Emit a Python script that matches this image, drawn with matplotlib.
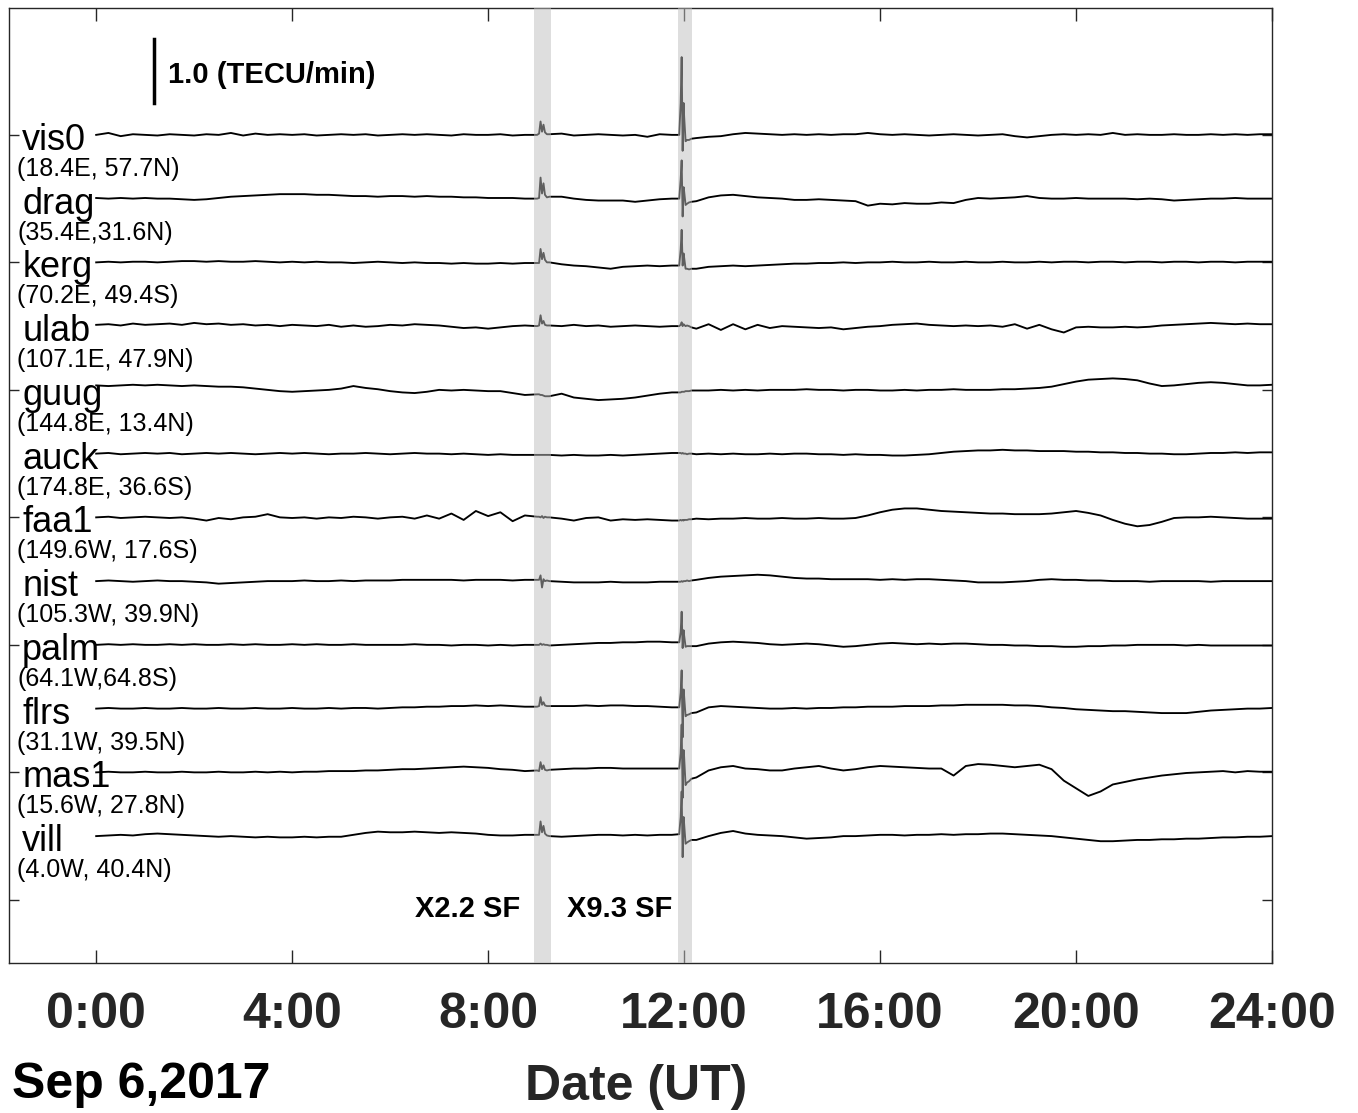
import numpy as np
import matplotlib
matplotlib.use("Agg")
import matplotlib.pyplot as plt

plt.rcParams['font.family'] = ['Liberation Sans', 'DejaVu Sans']

# station names, coordinates and vertical offsets (TECU/min)
stations = ['vis0', 'drag', 'kerg', 'ulab', 'guug', 'auck',
            'faa1', 'nist', 'palm', 'flrs', 'mas1', 'vill']
coords = ['(18.4E, 57.7N)', '(35.4E,31.6N)', '(70.2E, 49.4S)', '(107.1E, 47.9N)',
          '(144.8E, 13.4N)', '(174.8E, 36.6S)', '(149.6W, 17.6S)', '(105.3W, 39.9N)',
          '(64.1W,64.8S)', '(31.1W, 39.5N)', '(15.6W, 27.8N)', '(4.0W, 40.4N)']
offsets = [12, 11, 10, 9, 8, 7, 6, 5, 4, 3, 2, 1]

# sampling: every 15 min, plus extra samples around the two flares
hours_grid = np.arange(0, 24.01, 0.25)
flare_hours = [9.04, 9.07, 9.1, 9.13, 9.16, 9.2,
               11.9, 11.93, 11.95, 11.97, 11.99, 12.03, 12.06, 12.1, 12.15]

# flare windows (UT hours) and labels
flare_bands = [(8.94, 9.29), (11.88, 12.16)]
flare_names = ['X2.2 SF', 'X9.3 SF']
flare_label_x = [8.65, 11.77]

# dTEC/dt, relative to each baseline (15-min grid)
base_vis0 = [0.00, 0.03, -0.02, 0.01, 0.00, -0.01, 0.01, 0.00,
             -0.01, 0.01, 0.00, 0.03, -0.01, 0.02, 0.00, 0.01,
             0.00, 0.01, -0.01, 0.00, 0.01, 0.00, 0.01, -0.01,
             0.00, 0.01, 0.00, 0.01, 0.00, -0.01, 0.01, 0.00,
             0.00, 0.01, -0.01, 0.00, 0.00, 0.01, 0.02, -0.01,
             0.00, 0.01, 0.00, -0.01, 0.00, -0.03, 0.01, 0.00,
             0.30, -0.05, -0.03, -0.02, 0.01, 0.03, 0.02, 0.01,
             0.00, 0.01, 0.00, 0.01, 0.00, 0.01, 0.01, 0.03,
             0.01, 0.00, 0.01, 0.00, -0.01, 0.00, 0.01, 0.00,
             -0.01, 0.00, 0.01, -0.02, -0.04, -0.02, 0.00, 0.01,
             0.00, 0.01, 0.00, 0.03, 0.00, 0.01, 0.00, 0.00,
             0.01, 0.00, 0.00, 0.01, 0.00, 0.01, 0.00, 0.01,
             0.01]
base_drag = [0.01, 0.00, 0.01, 0.00, 0.01, 0.00, 0.00, -0.01,
             -0.02, -0.01, 0.01, 0.03, 0.04, 0.05, 0.06, 0.07,
             0.07, 0.07, 0.06, 0.06, 0.05, 0.04, 0.04, 0.03,
             0.04, 0.04, 0.03, 0.04, 0.03, 0.03, 0.02, 0.02,
             0.01, 0.01, 0.01, 0.00, 0.00, 0.03, 0.03, 0.00,
             -0.02, -0.03, -0.03, -0.03, -0.05, -0.03, -0.01, 0.00,
             0.12, -0.04, 0.02, 0.05, 0.06, 0.04, 0.02, 0.01,
             0.00, -0.02, -0.02, -0.01, -0.02, -0.03, -0.04, -0.11,
             -0.08, -0.09, -0.07, -0.08, -0.08, -0.06, -0.07, -0.02,
             0.01, 0.00, 0.01, 0.02, 0.04, 0.01, 0.00, 0.00,
             0.01, 0.00, 0.00, 0.00, 0.00, -0.01, 0.00, -0.01,
             -0.03, -0.02, -0.01, 0.00, 0.00, 0.01, 0.00, 0.00,
             0.00]
base_kerg = [0.00, 0.01, 0.00, 0.01, 0.01, 0.00, 0.01, 0.02,
             0.02, 0.01, 0.02, 0.01, 0.01, 0.02, 0.01, 0.00,
             0.01, 0.00, 0.01, 0.00, 0.00, -0.01, 0.00, 0.01,
             0.00, -0.01, 0.00, -0.01, -0.01, -0.02, -0.01, -0.02,
             -0.02, -0.01, -0.02, -0.01, -0.01, 0.00, -0.03, -0.05,
             -0.06, -0.08, -0.10, -0.07, -0.06, -0.05, -0.06, -0.05,
             0.08, -0.10, -0.07, -0.06, -0.05, -0.06, -0.05, -0.04,
             -0.03, -0.02, -0.02, -0.01, -0.01, 0.00, -0.01, 0.00,
             0.00, 0.01, 0.00, 0.00, 0.01, 0.00, 0.00, 0.01,
             0.00, 0.00, 0.01, 0.00, 0.00, 0.01, 0.00, 0.01,
             0.01, 0.00, 0.01, 0.01, 0.00, 0.01, 0.01, 0.00,
             0.01, 0.01, 0.00, 0.01, 0.01, 0.00, 0.01, 0.01,
             0.01]
base_ulab = [0.02, 0.03, 0.01, 0.04, 0.02, 0.03, 0.04, 0.02,
             0.05, 0.03, 0.04, 0.02, 0.03, 0.01, 0.02, 0.00,
             0.02, 0.01, 0.00, 0.02, -0.01, 0.01, -0.01, 0.00,
             0.02, 0.01, 0.03, 0.02, 0.01, -0.01, -0.03, -0.02,
             -0.04, -0.02, 0.00, 0.01, 0.00, 0.01, 0.00, 0.02,
             0.00, 0.01, -0.01, 0.00, 0.01, 0.00, -0.01, 0.00,
             0.02, -0.04, 0.03, -0.06, 0.03, -0.05, 0.02, -0.03,
             0.00, -0.01, -0.02, -0.03, -0.02, -0.05, -0.03, -0.01,
             0.00, 0.02, 0.03, 0.04, 0.02, 0.01, 0.00, 0.01,
             0.00, 0.01, -0.01, 0.03, -0.04, 0.02, -0.05, -0.10,
             -0.02, -0.01, -0.02, -0.02, -0.01, -0.02, -0.01, 0.01,
             0.02, 0.03, 0.04, 0.05, 0.04, 0.03, 0.04, 0.03,
             0.03]
base_guug = [0.07, 0.06, 0.07, 0.08, 0.07, 0.08, 0.07, 0.06,
             0.07, 0.06, 0.05, 0.05, 0.04, 0.02, 0.00, -0.02,
             -0.03, -0.02, -0.01, 0.00, 0.02, 0.06, 0.03, 0.01,
             -0.02, -0.04, -0.05, -0.03, 0.00, -0.01, 0.00, -0.01,
             -0.02, -0.02, -0.05, -0.08, -0.07, -0.10, -0.06, -0.12,
             -0.14, -0.16, -0.15, -0.14, -0.12, -0.09, -0.06, -0.04,
             -0.03, -0.01, -0.01, 0.00, -0.01, 0.00, -0.01, 0.00,
             0.00, 0.00, 0.01, 0.00, 0.00, -0.01, 0.00, 0.00,
             -0.01, -0.01, 0.00, -0.01, 0.00, 0.00, 0.01, 0.00,
             0.00, 0.00, 0.01, 0.01, 0.02, 0.03, 0.05, 0.09,
             0.13, 0.16, 0.17, 0.18, 0.17, 0.15, 0.10, 0.06,
             0.07, 0.09, 0.11, 0.12, 0.11, 0.09, 0.07, 0.07,
             0.08]
base_auck = [0.00, 0.01, -0.01, 0.00, 0.01, 0.00, 0.01, -0.01,
             0.00, 0.01, 0.00, 0.01, 0.00, -0.01, 0.00, 0.01,
             0.00, 0.01, 0.00, -0.01, 0.00, 0.00, 0.01, 0.00,
             -0.01, 0.00, 0.01, 0.00, 0.00, -0.01, 0.00, -0.01,
             -0.02, -0.01, -0.02, -0.02, -0.02, -0.02, -0.03, -0.02,
             -0.03, -0.03, -0.02, -0.03, -0.02, -0.01, 0.00, 0.01,
             0.00, -0.01, 0.00, -0.01, 0.00, -0.01, -0.01, 0.00,
             -0.01, 0.00, 0.00, -0.01, -0.01, -0.02, -0.01, -0.02,
             -0.02, -0.03, -0.03, -0.02, -0.01, 0.01, 0.03, 0.04,
             0.05, 0.05, 0.06, 0.05, 0.05, 0.04, 0.04, 0.04,
             0.03, 0.03, 0.02, 0.02, 0.01, 0.01, 0.00, 0.00,
             -0.01, -0.01, 0.00, 0.01, 0.01, 0.02, 0.01, 0.02,
             0.02]
base_faa1 = [0.00, 0.01, -0.01, 0.00, 0.01, 0.00, -0.01, 0.00,
             -0.02, -0.05, -0.01, -0.03, 0.00, 0.01, 0.05, 0.00,
             -0.01, 0.00, -0.02, 0.00, -0.01, 0.01, 0.00, -0.02,
             0.00, 0.01, -0.02, 0.03, -0.02, 0.06, -0.04, 0.10,
             0.02, 0.08, -0.06, 0.03, 0.01, 0.00, -0.02, -0.05,
             -0.01, 0.00, -0.05, -0.03, -0.04, -0.03, -0.04, -0.05,
             -0.04, -0.02, -0.03, -0.02, -0.02, -0.01, -0.02, -0.02,
             -0.01, -0.02, -0.02, -0.01, -0.02, -0.02, -0.01, 0.03,
             0.08, 0.12, 0.14, 0.14, 0.12, 0.10, 0.09, 0.08,
             0.07, 0.06, 0.06, 0.05, 0.05, 0.05, 0.06, 0.08,
             0.10, 0.07, 0.03, -0.04, -0.10, -0.14, -0.12, -0.07,
             -0.01, 0.00, 0.00, 0.01, 0.00, -0.01, -0.02, -0.02,
             -0.02]
base_nist = [0.00, 0.01, 0.00, -0.01, 0.00, 0.01, 0.00, 0.00,
             -0.01, -0.02, -0.04, -0.03, -0.02, -0.01, 0.00, 0.00,
             0.00, 0.01, 0.00, 0.00, 0.01, 0.00, 0.01, 0.01,
             0.01, 0.02, 0.02, 0.02, 0.02, 0.02, 0.01, 0.02,
             0.02, 0.02, 0.01, 0.02, 0.02, 0.00, -0.01, -0.02,
             -0.02, -0.02, -0.01, -0.02, -0.02, -0.02, -0.01, -0.01,
             0.00, 0.02, 0.05, 0.07, 0.08, 0.09, 0.10, 0.09,
             0.07, 0.05, 0.04, 0.04, 0.03, 0.03, 0.03, 0.03,
             0.02, 0.03, 0.02, 0.03, 0.03, 0.02, 0.01, 0.00,
             -0.02, -0.02, -0.02, -0.01, 0.00, 0.02, 0.03, 0.02,
             0.02, 0.01, 0.01, 0.00, 0.00, 0.00, -0.01, 0.00,
             0.00, 0.00, 0.00, -0.01, 0.00, 0.00, 0.00, 0.00,
             0.00]
base_palm = [0.00, 0.01, 0.00, 0.01, 0.00, 0.00, 0.01, 0.00,
             0.01, 0.00, 0.00, 0.01, 0.00, 0.01, 0.00, 0.00,
             0.01, 0.00, 0.01, 0.00, 0.00, 0.01, 0.00, 0.00,
             0.00, 0.00, 0.01, 0.00, 0.00, -0.01, 0.00, 0.00,
             -0.01, 0.00, -0.01, 0.00, 0.00, -0.01, 0.00, 0.01,
             0.02, 0.03, 0.03, 0.04, 0.04, 0.05, 0.05, 0.04,
             0.15, -0.02, 0.02, 0.04, 0.05, 0.04, 0.03, 0.01,
             0.00, 0.01, 0.02, 0.01, -0.01, -0.03, -0.02, 0.00,
             0.02, 0.03, 0.02, 0.01, 0.02, 0.01, 0.02, 0.02,
             0.01, 0.00, 0.00, -0.01, -0.01, -0.02, -0.02, -0.03,
             -0.03, -0.02, -0.02, -0.01, -0.01, 0.00, 0.00, 0.00,
             0.00, -0.01, 0.00, -0.01, -0.01, -0.01, -0.01, -0.01,
             -0.01]
base_flrs = [0.00, 0.01, 0.00, 0.00, 0.01, 0.00, 0.00, 0.01,
             0.00, 0.00, 0.01, 0.00, 0.00, 0.01, 0.00, 0.00,
             0.01, 0.00, 0.00, 0.01, 0.00, 0.01, 0.01, 0.00,
             0.01, 0.02, 0.02, 0.03, 0.03, 0.04, 0.04, 0.05,
             0.04, 0.05, 0.04, 0.03, 0.03, 0.04, 0.04, 0.04,
             0.05, 0.04, 0.05, 0.05, 0.04, 0.04, 0.03, 0.02,
             0.20, -0.06, 0.02, 0.04, 0.03, 0.02, 0.01, 0.00,
             0.00, 0.01, 0.00, 0.01, 0.01, 0.02, 0.02, 0.03,
             0.03, 0.03, 0.04, 0.04, 0.04, 0.05, 0.05, 0.06,
             0.06, 0.06, 0.06, 0.05, 0.05, 0.04, 0.02, 0.01,
             -0.01, -0.02, -0.03, -0.04, -0.04, -0.05, -0.06, -0.07,
             -0.07, -0.07, -0.05, -0.03, -0.02, -0.01, 0.00, 0.00,
             0.01]
base_mas1 = [0.00, 0.01, 0.00, 0.00, 0.01, 0.00, 0.00, 0.01,
             0.00, 0.00, 0.01, 0.00, 0.00, 0.01, 0.00, 0.01,
             0.00, 0.01, 0.01, 0.02, 0.02, 0.02, 0.03, 0.03,
             0.04, 0.05, 0.05, 0.06, 0.07, 0.08, 0.09, 0.08,
             0.07, 0.05, 0.04, 0.02, 0.03, 0.04, 0.05, 0.06,
             0.06, 0.07, 0.07, 0.06, 0.06, 0.06, 0.06, 0.06,
             0.25, -0.08, 0.03, 0.08, 0.10, 0.06, 0.05, 0.03,
             0.03, 0.06, 0.08, 0.10, 0.06, 0.03, 0.05, 0.08,
             0.10, 0.09, 0.08, 0.07, 0.06, 0.06, -0.05, 0.10,
             0.13, 0.12, 0.10, 0.08, 0.10, 0.12, 0.05, -0.13,
             -0.25, -0.37, -0.30, -0.19, -0.15, -0.11, -0.08, -0.05,
             -0.03, -0.01, 0.00, 0.01, 0.02, 0.00, 0.02, 0.01,
             0.01]
base_vill = [0.00, 0.01, 0.02, 0.01, 0.03, 0.04, 0.03, 0.02,
             0.01, 0.00, -0.01, 0.00, -0.01, -0.02, -0.01, -0.02,
             -0.02, -0.01, -0.02, -0.01, -0.01, 0.02, 0.05, 0.07,
             0.06, 0.06, 0.07, 0.06, 0.05, 0.06, 0.05, 0.04,
             0.02, 0.01, 0.01, 0.02, 0.02, 0.00, -0.01, 0.00,
             0.01, 0.02, 0.02, 0.01, 0.02, 0.01, 0.02, 0.02,
             0.20, -0.06, 0.00, 0.05, 0.08, 0.04, 0.02, 0.01,
             0.00, -0.02, -0.04, -0.03, -0.02, 0.00, 0.00, 0.01,
             0.02, 0.02, 0.01, 0.02, 0.02, 0.03, 0.02, 0.03,
             0.03, 0.04, 0.04, 0.03, 0.02, 0.01, 0.00, -0.02,
             -0.04, -0.06, -0.08, -0.08, -0.07, -0.06, -0.06, -0.05,
             -0.05, -0.04, -0.04, -0.03, -0.02, -0.02, -0.01, -0.01,
             0.00]

# values at flare_hours (X2.2 twin peaks, then X9.3 impulsive spike)
flare_vis0 = [0.02, 0.21, 0.05, 0.16, 0.04, 0.01,
              0.00, 0.50, 1.22, -0.25, 0.50, -0.10, -0.08, -0.08, -0.06]
flare_drag = [0.01, 0.33, 0.08, 0.24, 0.06, 0.02,
              0.00, 0.30, 0.60, -0.28, 0.18, -0.10, -0.08, -0.06, -0.05]
flare_kerg = [-0.01, 0.21, 0.05, 0.15, 0.04, 0.00,
              -0.05, 0.20, 0.51, -0.05, 0.14, -0.10, -0.10, -0.11, -0.10]
flare_ulab = [0.01, 0.17, 0.04, 0.08, 0.02, 0.01,
              0.00, 0.02, 0.06, 0.00, 0.03, 0.00, 0.01, 0.00, -0.02]
flare_guug = [-0.07, -0.08, -0.08, -0.09, -0.10, -0.10,
              -0.04, -0.04, -0.03, -0.03, -0.03, -0.02, -0.02, -0.02, -0.01]
flare_auck = [-0.02, -0.02, -0.02, -0.02, -0.02, -0.02,
              0.01, 0.01, 0.00, 0.01, 0.00, 0.00, -0.01, 0.00, 0.00]
flare_faa1 = [0.01, 0.00, 0.02, -0.01, 0.01, 0.00,
              -0.05, -0.04, -0.05, -0.04, -0.05, -0.04, -0.04, -0.03, -0.03]
flare_nist = [0.02, 0.09, -0.10, 0.03, 0.00, 0.01,
              -0.01, -0.01, 0.00, -0.01, 0.00, 0.00, 0.01, 0.00, 0.01]
flare_palm = [0.00, 0.02, 0.00, 0.01, 0.00, 0.00,
              0.04, 0.20, 0.52, -0.05, 0.23, -0.03, -0.02, -0.02, -0.02]
flare_flrs = [0.04, 0.18, 0.06, 0.10, 0.05, 0.04,
              0.02, 0.25, 0.60, -0.45, 0.30, -0.12, -0.10, -0.09, -0.07]
flare_mas1 = [0.02, 0.16, 0.05, 0.11, 0.04, 0.03,
              0.06, 0.30, 0.75, -0.40, 0.35, -0.20, -0.16, -0.14, -0.10]
flare_vill = [0.02, 0.23, 0.06, 0.16, 0.04, 0.01,
              0.03, 0.30, 0.70, -0.33, 0.30, -0.12, -0.10, -0.08, -0.06]

base_vals = [base_vis0, base_drag, base_kerg, base_ulab, base_guug, base_auck,
             base_faa1, base_nist, base_palm, base_flrs, base_mas1, base_vill]
flare_vals = [flare_vis0, flare_drag, flare_kerg, flare_ulab, flare_guug, flare_auck,
              flare_faa1, flare_nist, flare_palm, flare_flrs, flare_mas1, flare_vill]

hours = np.concatenate([hours_grid, flare_hours])
order = np.argsort(hours, kind='stable')
hours = hours[order]

fig = plt.figure(figsize=(13.58, 11.13), dpi=100)
ax = fig.add_axes([0.0066, 0.1348, 0.9301, 0.858])

axis_col = '#262626'

for name, loc, off, b, f in zip(stations, coords, offsets, base_vals, flare_vals):
    vals = np.concatenate([b, f])[order]
    ax.plot(hours, off + vals, color='k', lw=1.35, zorder=2)
    ax.text(-1.51, off - 0.235, name, fontsize=26, ha='left', va='baseline', zorder=4)
    ax.text(-1.61, off - 0.643, loc, fontsize=18, ha='left', va='baseline', zorder=4)

# flare intervals, drawn over the traces
for (t0, t1), lab, lx in zip(flare_bands, flare_names, flare_label_x):
    ax.axvspan(t0, t1, color='0.75', alpha=0.5, lw=0, zorder=3)
    ax.text(lx, -0.27, lab, fontsize=21, fontweight='bold',
            ha='right', va='baseline', zorder=4)

# scale bar
ax.plot([1.18, 1.18], [12.5, 13.5], color='k', lw=2.5, zorder=4)
ax.text(1.47, 12.82, '1.0 (TECU/min)', fontsize=21, fontweight='bold',
        ha='left', va='baseline', zorder=4)

ax.set_xlim(-1.78, 24)
ax.set_ylim(-0.99, 13.99)
ax.set_xticks(np.arange(0, 25, 4))
ax.set_xticklabels(['%d:00' % h for h in range(0, 25, 4)])
ax.set_yticks(np.arange(0, 13, 2))
ax.set_yticklabels([])

ax.tick_params(axis='x', direction='in', length=9.5, width=1.0, top=True,
               labelsize=36, pad=21, colors=axis_col)
ax.tick_params(axis='y', direction='in', length=7, width=1.0, right=True,
               colors=axis_col)
for lab in ax.get_xticklabels():
    lab.set_fontweight('bold')
for sp in ax.spines.values():
    sp.set_color(axis_col)
    sp.set_linewidth(1.0)

fig.text(636 / 1358, 1 - 1100 / 1113, 'Date (UT)', fontsize=36, fontweight='bold',
         color=axis_col, ha='center', va='baseline')
fig.text(12 / 1358, 1 - 1098 / 1113, 'Sep 6,2017', fontsize=36, fontweight='bold',
         color='k', ha='left', va='baseline')

fig.savefig('out.png', dpi=100)
